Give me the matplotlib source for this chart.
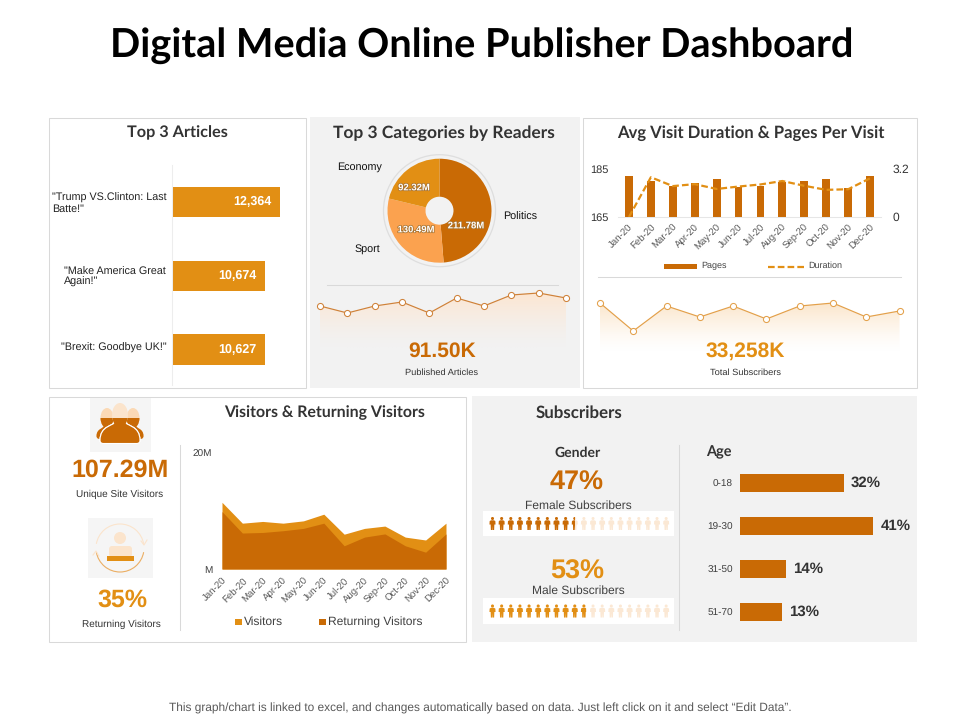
import numpy as np
import matplotlib
matplotlib.use("Agg")
import matplotlib.pyplot as plt
import matplotlib.patheffects as pe
from matplotlib.patches import Rectangle, Circle, Arc, FancyBboxPatch, Polygon, Ellipse, PathPatch
from matplotlib.path import Path
from matplotlib.colors import LinearSegmentedColormap

# ---------- data ----------
months = ["Jan-20","Feb-20","Mar-20","Apr-20","May-20","Jun-20","Jul-20","Aug-20","Sep-20","Oct-20","Nov-20","Dec-20"]
article_labels = ['"Trump VS.Clinton: Last\nBatte!"', '"Make America Great\nAgain!"', '"Brexit: Goodbye UK!"']
article_values = [12364, 10674, 10627]
pie_labels = ["Politics", "Sport", "Economy"]
pie_values = [211.78, 130.49, 92.32]
articles_trend = [42, 35, 42, 46, 35, 50, 42, 53, 55, 50]
subs_trend = [49, 21, 46, 35, 46, 33, 46, 49, 35, 41]
pages = [182.1, 180, 178, 179.1, 180.9, 177.3, 178, 179.4, 180, 180.9, 176.9, 182.1]
duration = [0, 2.65, 2.06, 2.19, 1.87, 2.03, 2.17, 2.40, 2.08, 1.81, 1.85, 2.58]
visitors = [11.5, 7.9, 8.2, 7.9, 8.3, 9.45, 6.0, 7.0, 7.4, 5.5, 5.0, 7.9]
returning = [9.9, 6.2, 6.3, 6.6, 7.0, 7.9, 4.0, 5.5, 6.05, 4.0, 2.9, 6.05]
age_labels = ["0-18", "19-30", "31-50", "51-70"]
age_values = [32, 41, 14, 13]
female_pct = 47
male_pct = 53

DARK = "#C96A05"
ORANGE = "#E28F14"
LIGHT = "#FBA24F"
PALE = "#FBE4CC"
TXT = "#333333"
GRID = "#D9D9D9"
BODY = "Liberation Sans"
HEAD = "Lato"
plt.rcParams["font.family"] = [BODY, "DejaVu Sans"]
plt.rcParams["text.hinting"] = "no_hinting"

W, H = 960, 720
fig = plt.figure(figsize=(9.6, 7.2), dpi=100, facecolor="white")


def px_axes(x0, y0, x1, y1, z=2):
    ax = fig.add_axes([x0 / W, 1 - y1 / H, (x1 - x0) / W, (y1 - y0) / H], zorder=z)
    ax.patch.set_alpha(0)
    return ax


def overlay(z):
    ax = fig.add_axes([0, 0, 1, 1], zorder=z)
    ax.set_xlim(0, W)
    ax.set_ylim(H, 0)
    ax.axis("off")
    ax.patch.set_alpha(0)
    return ax


bg = overlay(0)
fg = overlay(5)


def px(s):
    return s * 0.72


def T(x, y, s, size, color=TXT, weight="normal", ha="center", family=BODY, **kw):
    return fg.text(x, y, s, fontsize=px(size), color=color, fontweight=weight, ha=ha,
                   va="center", family=family, **kw)


# ---------- panels ----------
for (x0, y0, x1, y1, fc, ec) in [
    (48.5, 117.5, 305.5, 388, "white", GRID),
    (310, 117, 580, 388, "#F2F2F2", "none"),
    (582.5, 117.5, 916.5, 388, "white", GRID),
    (48.5, 396.5, 465.5, 642, "white", GRID),
    (472, 396, 917, 642, "#F2F2F2", "none"),
]:
    bg.add_patch(Rectangle((x0, y0), x1 - x0, y1 - y0, fc=fc, ec=ec, lw=0.75))

T(481.5, 45.5, "Digital Media Online Publisher Dashboard", 39.7, "black", "bold", family=HEAD)
T(480.5, 708, "This graph/chart is linked to excel, and changes automatically based on data. Just left click on it and select “Edit Data”.", 11.9, "#595959")

for x, y, s, size in [(177, 133, "Top 3 Articles", 16.2), (443.5, 133, "Top 3 Categories by Readers", 17.4),
                      (750.5, 133, "Avg Visit Duration & Pages Per Visit", 16.6),
                      (324.5, 413, "Visitors & Returning Visitors", 15.9), (579, 413, "Subscribers", 16.9)]:
    T(x, y, s, size, TXT, "bold", family=HEAD)

# ---------- top articles ----------
ax = px_axes(172, 165, 290, 385)
ypos = np.arange(len(article_values))
ax.barh(ypos, article_values, height=0.41, color=ORANGE)
ax.set_xlim(0, 118 / 108 * article_values[0])
ax.set_ylim(2.48, -0.5)
ax.set_xticks([])
ax.set_yticks([])
for s in ["top", "right", "bottom"]:
    ax.spines[s].set_visible(False)
ax.spines["left"].set_color("#EDEDED")
ax.spines["left"].set_linewidth(0.75)
for i, v in enumerate(article_values):
    ax.text(v - 27.5 / 108 * article_values[0], i, f"{v:,}", color="white", fontweight="bold",
            fontsize=px(12.5), ha="center", va="center")
T(52, 203.5, article_labels[0], 10.7, "#222222", ha="left", linespacing=1.05)
T(64, 277, article_labels[1], 10.7, "#222222", ha="left", linespacing=1.05)
T(61, 348, article_labels[2], 10.7, "#222222", ha="left")

# ---------- pie ----------
ax = px_axes(379.5, 150.7, 499.5, 270.7)
ax.set_xlim(-60, 60)
ax.set_ylim(-60, 60)
ax.add_patch(Circle((0, 0), 56, fc="none", ec="#DEDEDE", lw=0.9))
ax.pie(pie_values, colors=[DARK, LIGHT, ORANGE], startangle=90, counterclock=False, radius=52,
       center=(0, 0), wedgeprops=dict(width=38, linewidth=0), frame=False)
ax.set_xlim(-60, 60)
ax.set_ylim(-60, 60)
ax.set_aspect("equal")
shadow = [pe.withStroke(linewidth=1.1, foreground="#A8722F")]
for x, y, s in [(466, 226, "211.78M"), (416, 230, "130.49M"), (414, 188, "92.32M")]:
    T(x, y, s, 9.5, "white", "bold", path_effects=shadow)
T(360, 167, "Economy", 10.7, "#111111")
T(367, 249, "Sport", 10.7, "#111111")
T(520.5, 217, "Politics", 10.7, "#111111")
bg.plot([327, 558], [284.5, 284.5], color="#D9D9D9", lw=0.75)


# ---------- sparklines ----------
def spark(x0, x1, base, vals, color, top_color, end_color):
    top = base - 66
    ax = px_axes(x0, top, x1, base)
    xs = np.arange(len(vals))
    ax.set_xlim(0, len(vals) - 1)
    ax.set_ylim(0, 66)
    ax.axis("off")
    poly = ax.fill_between(xs, vals, 0, facecolor="none", edgecolor="none")
    cmap = LinearSegmentedColormap.from_list("g", [end_color, top_color])
    im = ax.imshow((np.linspace(1, 0, 64) ** 1.4).reshape(-1, 1), cmap=cmap, aspect="auto", vmin=0, vmax=1,
                   extent=(0, len(vals) - 1, 0, max(vals)), zorder=1)
    im.set_clip_path(poly.get_paths()[0], transform=ax.transData)
    ax.set_xlim(0, len(vals) - 1)
    ax.set_ylim(0, 66)
    ax.plot(xs, vals, color=color, lw=0.85, marker="o", ms=4.4, mfc="white", mec=color, mew=0.75,
            clip_on=False, zorder=3)


spark(320, 566, 348, articles_trend, "#CF8138", "#FCE6D2", "#F2F2F2")
spark(600, 899.5, 352, subs_trend, "#E3A04A", "#FBE6CC", "#FFFFFF")
T(442, 351.5, "91.50K", 21, DARK, "bold")
T(442, 373, "Published Articles", 9.3, "#333333")
T(745, 351.5, "33,258K", 21, ORANGE, "bold")
T(745, 373, "Total Subscribers", 9.3, "#333333")

# ---------- pages and duration ----------
ax = px_axes(618, 169, 881, 217)
x = np.arange(12)
ax.bar(x, pages, width=0.36, color=DARK)
ax.set_xlim(-0.5, 11.5)
ax.set_ylim(165, 185)
ax.set_yticks([165, 185])
ax.set_xticks(x)
ax.set_xticklabels(months, rotation=45, ha="right", rotation_mode="anchor", fontsize=px(9.6), color="#595959")
ax.tick_params(axis="both", length=0)
ax.tick_params(axis="y", labelsize=px(11), labelcolor="#333333", pad=7)
ax.tick_params(axis="x", pad=4)
for s in ["top", "left", "right"]:
    ax.spines[s].set_visible(False)
ax.spines["bottom"].set_color("#E6E6E6")
ax.spines["bottom"].set_linewidth(0.75)
ax2 = ax.twinx()
ax2.patch.set_alpha(0)
ax2.plot(x, duration, color=ORANGE, lw=1.6, ls=(0, (3, 1.4)))
ax2.set_ylim(0, 3.2)
ax2.set_yticks([0, 3.2])
ax2.set_yticklabels(["0", "3.2"], fontsize=px(12), color="#333333")
ax2.tick_params(axis="y", length=0, pad=8)
for s in ax2.spines.values():
    s.set_visible(False)
fg.add_patch(Rectangle((664, 264), 33, 5, fc=DARK, ec="none"))
T(701, 266, "Pages", 9, "#444444", ha="left")
fg.plot([768, 804], [266.5, 266.5], color=ORANGE, lw=1.6, ls=(0, (3, 1.4)))
T(808, 266, "Duration", 9, "#444444", ha="left")
bg.plot([598, 901], [276.5, 276.5], color="#D9D9D9", lw=0.75)

# ---------- visitors area ----------
ax = px_axes(222, 453, 446, 569)
ax.fill_between(x, visitors, 0, color=ORANGE, lw=0)
ax.fill_between(x, returning, 0, color=DARK, lw=0)
ax.set_xlim(0, 11)
ax.set_ylim(0, 20)
ax.set_yticks([0, 20])
ax.set_yticklabels(["M", "20M"], fontsize=px(10), color="#404040")
ax.set_xticks(x)
ax.set_xticklabels(months, rotation=45, ha="right", rotation_mode="anchor", fontsize=px(9.6), color="#595959")
ax.tick_params(axis="both", length=0)
ax.tick_params(axis="x", pad=5)
ax.tick_params(axis="y", pad=7)
for s in ax.spines.values():
    s.set_visible(False)
fg.add_patch(Rectangle((235, 619), 7, 6, fc=ORANGE, ec="none"))
T(243.5, 622, "Visitors", 12, "#404040", ha="left")
fg.add_patch(Rectangle((319, 619), 7, 6, fc=DARK, ec="none"))
T(328, 622, "Returning Visitors", 12, "#404040", ha="left")
bg.plot([180, 180], [445, 630], color="#D9D9D9", lw=0.75)

# ---------- left KPI column ----------
bg.add_patch(Rectangle((90, 398), 61, 54, fc="#F5F5F5", ec="none"))
bg.add_patch(Rectangle((88, 518), 65, 60, fc="#F5F5F5", ec="none"))


def body_path(cx, w, y0, y1):
    """Bell-shaped shoulders from a neck at y0 to a rounded base at y1."""
    hw = w / 2
    n = hw * 0.28
    verts = [(cx - n, y0),
             (cx - n, y0 + 4), (cx - hw, y0 + 3), (cx - hw, y1 - 3),
             (cx - hw, y1), (cx - hw + 3, y1), (cx - hw + 3, y1),
             (cx + hw - 3, y1),
             (cx + hw - 3, y1), (cx + hw, y1), (cx + hw, y1 - 3),
             (cx + hw, y0 + 3), (cx + n, y0 + 4), (cx + n, y0),
             (cx - n, y0)]
    codes = [Path.MOVETO, Path.CURVE4, Path.CURVE4, Path.CURVE4,
             Path.CURVE4, Path.CURVE4, Path.CURVE4, Path.LINETO,
             Path.CURVE4, Path.CURVE4, Path.CURVE4,
             Path.CURVE4, Path.CURVE4, Path.CURVE4, Path.CLOSEPOLY]
    return Path(verts, codes)


def big_person(cx, head_y, hw, hh, bw, by0, by1, color, clip=None, edge="none", z=3):
    b = PathPatch(body_path(cx, bw, by0, by1), fc=color, ec=edge, lw=0.8, zorder=z)
    h = Ellipse((cx, head_y), hw, hh, fc=color, ec="none", zorder=z)
    bg.add_patch(b)
    bg.add_patch(h)
    if clip is not None:
        b.set_clip_path(clip)
        h.set_clip_path(clip)


clip_rect = Rectangle((85, 417.5), 70, 40, transform=bg.transData)
for cx in (107, 133):
    big_person(cx, 418, 13, 20, 21, 425, 439, "#FBD9B5", z=2)
    big_person(cx, 418, 13, 20, 21, 425, 439, DARK, clip=clip_rect, z=2)
big_person(120, 415, 16, 24, 40, 422, 443.5, PALE, edge="white", z=3)
big_person(120, 415, 16, 24, 40, 422, 443.5, DARK, clip=clip_rect, edge="white", z=3)
T(120, 470.5, "107.29M", 25, DARK, "bold")
T(120, 494, "Unique Site Visitors", 10, "#333333")

bg.add_patch(Circle((120, 538), 6, fc=PALE, ec="none", zorder=3))
bg.add_patch(FancyBboxPatch((111, 548), 19, 7, boxstyle="round,pad=2,rounding_size=3", fc=PALE, ec="none", zorder=3))
bg.add_patch(Rectangle((107, 556), 27, 4.5, fc=ORANGE, ec="none", zorder=4))
bg.add_patch(Arc((120, 548), 48, 48, theta1=10, theta2=170, color="#EBAE63", lw=0.8, zorder=3))
bg.add_patch(Arc((120, 548), 48, 48, theta1=190, theta2=350, color=PALE, lw=0.8, zorder=3))
bg.plot([141, 144, 147], [541, 545, 540], color=PALE, lw=0.8, zorder=3)
bg.plot([93, 96, 99], [555, 551, 556], color=PALE, lw=0.8, zorder=3)
T(122, 600.5, "35%", 25, ORANGE, "bold")
T(121, 624, "Returning Visitors", 10, "#333333")

# ---------- gender ----------
T(578, 452.5, "Gender", 14, TXT, "bold", family=HEAD)
T(577, 483, "47%", 27, DARK, "bold")
T(578, 505.5, "Female Subscribers", 12, "#404040")
T(577, 572, "53%", 27, ORANGE, "bold")
T(578, 590.5, "Male Subscribers", 12, "#404040")
bg.plot([678.5, 678.5], [445, 630], color="#D9D9D9", lw=0.75)


def pictogram(box_y0, box_y1, share, color):
    bg.add_patch(Rectangle((483, box_y0), 191, box_y1 - box_y0, fc="white", ec="none", zorder=1))
    cy = (box_y0 + box_y1) / 2
    n = 20
    step = 9.14
    x0 = 492.5
    limit = x0 - 3 + share / 100 * n * step
    dark_clip = Rectangle((0, 0), limit, H, transform=bg.transData)
    for c, cl in [("#FBE8D4", None), (color, dark_clip)]:
        for i in range(n):
            cx = x0 + step * i
            parts = [Circle((cx, cy - 5), 1.5, fc=c, ec="none", zorder=3),
                     Polygon([[cx - 3, cy + 1], [cx - 2.8, cy - 2.4], [cx - 1.4, cy - 3.2], [cx + 1.4, cy - 3.2],
                              [cx + 2.8, cy - 2.4], [cx + 3, cy + 1], [cx + 1.8, cy + 1],
                              [cx + 1.6, cy + 6.5], [cx + 0.2, cy + 6.5], [cx, cy + 2], [cx - 0.2, cy + 6.5],
                              [cx - 1.6, cy + 6.5], [cx - 1.8, cy + 1]], closed=True, fc=c, ec="none", zorder=3)]
            for p in parts:
                bg.add_patch(p)
                if cl is not None:
                    p.set_clip_path(cl)


pictogram(511, 536, female_pct, DARK)
pictogram(598, 624, male_pct, ORANGE)

# ---------- age ----------
T(719, 452.5, "Age", 14.5, TXT, "bold", family=HEAD)
ax = px_axes(740, 462, 900, 632)
ypos = np.arange(4)
ax.barh(ypos, age_values, height=0.42, color=DARK)
ax.set_xlim(0, 160 / 3.25)
ax.set_ylim(3.47, -0.49)
ax.set_xticks([])
ax.set_yticks(ypos)
ax.set_yticklabels(age_labels, fontsize=px(10), color="#404040")
ax.tick_params(axis="y", length=0, pad=5)
for s in ax.spines.values():
    s.set_visible(False)
for i, v in enumerate(age_values):
    ax.text(v + 2.2, i, f"{v}%", fontsize=px(15), fontweight="bold", color="#333333", va="center", ha="left")

fig.savefig("out.png", dpi=100, facecolor="white")
